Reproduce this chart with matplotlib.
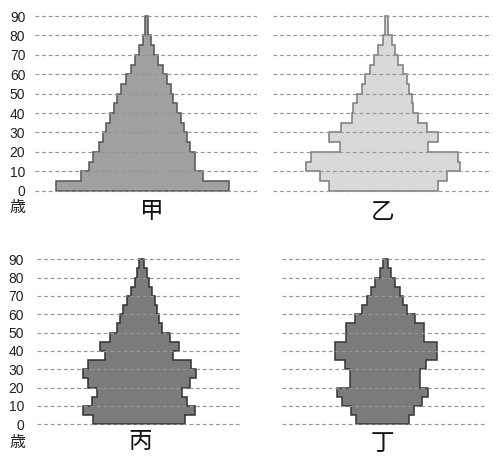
import matplotlib
matplotlib.use("Agg")
import matplotlib.pyplot as plt
import numpy as np

# ---------------- data ----------------
age_edges = list(range(0, 95, 5))          # 5-year age groups 0-4 ... 85-89
age_ticks = list(range(0, 100, 10))
tick_labels = [str(a) for a in age_ticks]
panel_titles = ["甲", "乙", "丙", "丁"]
age_unit = "歳"

# left (male) and right (female) sizes of each age group, bottom to top
jia_left = [90.8, 65.5, 57.5, 53.8, 47.2, 43.2, 40.5, 36.5, 32.2, 29.8,
            25.2, 20.8, 15.8, 11.5, 7.2, 3.8, 1.5, 1.2]
jia_right = [82.8, 56.8, 48.5, 48.5, 43.5, 40.2, 37.5, 34.5, 30.2, 26.8,
             24.2, 20.2, 16.8, 11.8, 7.5, 4.2, 1.8, 1.5]

yi_left = [58.0, 67.3, 81.0, 76.3, 47.0, 58.0, 46.0, 35.3, 33.7, 30.3,
           25.3, 22.0, 17.0, 12.7, 8.7, 4.3, 2.0, 2.0]
yi_right = [51.3, 59.7, 73.0, 71.3, 40.7, 51.3, 39.7, 31.3, 26.3, 24.7,
            22.3, 19.7, 16.3, 11.3, 8.0, 4.7, 1.3, 1.3]

bing_left = [48.8, 58.5, 49.5, 44.8, 53.2, 58.8, 53.8, 36.8, 41.2, 31.5,
             24.8, 21.5, 18.8, 14.8, 10.8, 6.5, 4.8, 2.2]
bing_right = [43.5, 53.2, 45.2, 40.2, 48.2, 54.5, 49.5, 31.8, 37.8, 28.2,
              20.7, 17.8, 15.8, 13.5, 10.2, 7.5, 5.2, 2.5]

ding_left = [30.1, 34.8, 44.1, 49.1, 35.8, 35.8, 40.5, 50.8, 50.8, 40.1,
             40.1, 30.8, 24.1, 19.1, 14.8, 10.8, 5.8, 2.5]
ding_right = [23.2, 28.5, 35.9, 42.5, 34.2, 34.2, 39.9, 50.9, 50.9, 38.5,
              38.5, 29.2, 20.9, 17.5, 14.2, 9.2, 4.9, 2.5]

# ---------------- layout ----------------
W, H = 497, 458
fig = plt.figure(figsize=(W / 100, H / 100), dpi=100)
fig.patch.set_facecolor("white")

CJK = ["Noto Sans CJK JP", "DejaVu Sans"]
LAT = ["Liberation Sans", "DejaVu Sans"]


def add_panel(x0, x1, center, y0px, y90px):
    ppu = (y0px - y90px) / 90.0
    ylo, yhi = -2, 92
    top = y90px - (yhi - 90) * ppu
    bottom = y0px + (0 - ylo) * ppu
    ax = fig.add_axes([x0 / W, 1 - bottom / H, (x1 - x0) / W, (bottom - top) / H])
    ax.set_xlim(x0 - center, x1 - center)
    ax.set_ylim(ylo, yhi)
    for s in ax.spines.values():
        s.set_visible(False)
    ax.set_xticks([])
    ax.patch.set_alpha(0)
    return ax


def draw(ax, left, right, face, edge):
    ax.stairs(right, age_edges, baseline=-np.asarray(left),
              orientation="horizontal", fill=True,
              facecolor=face, edgecolor=edge, linewidth=1.1, zorder=2,
              joinstyle="miter")
    for a in age_ticks:
        ax.axhline(a, color="#959595", linewidth=0.85,
                   linestyle=(0, (3.2, 2.4)), zorder=3)


panels = [
    (add_panel(35, 257, 146.5, 190.7, 16.0), jia_left, jia_right, "#a0a0a0", "#555555"),
    (add_panel(273, 492, 387.0, 190.7, 16.0), yi_left, yi_right, "#d9d9d9", "#7a7a7a"),
    (add_panel(36.7, 241.7, 141.5, 424.3, 259.3), bing_left, bing_right, "#7b7b7b", "#303030"),
    (add_panel(281.7, 487, 385.8, 424.3, 259.3), ding_left, ding_right, "#7b7b7b", "#353535"),
]

for i, (ax, l, r, fc, ec) in enumerate(panels):
    draw(ax, l, r, fc, ec)
    if i % 2 == 0:
        ax.set_yticks(age_ticks, tick_labels)
        ax.tick_params(axis="y", length=0, pad=7.0 if i == 0 else 9.0,
                       labelsize=10, labelcolor="#222222")
        for t in ax.get_yticklabels():
            t.set_fontfamily(LAT)
    else:
        ax.set_yticks([])

# titles and unit labels
title_pos = [(152, 212), (383, 213), (140, 441), (382, 443)]
for (x, y), t in zip(title_pos, panel_titles):
    fig.text(x / W, 1 - y / H, t, ha="center", va="center",
             fontsize=17, family=CJK, color="#111111")

for (x, y) in [(17.5, 208), (17.5, 443)]:
    fig.text(x / W, 1 - y / H, age_unit, ha="center", va="center",
             fontsize=11.5, family=CJK, color="#222222")

fig.savefig("out.png", dpi=100, facecolor="white")
